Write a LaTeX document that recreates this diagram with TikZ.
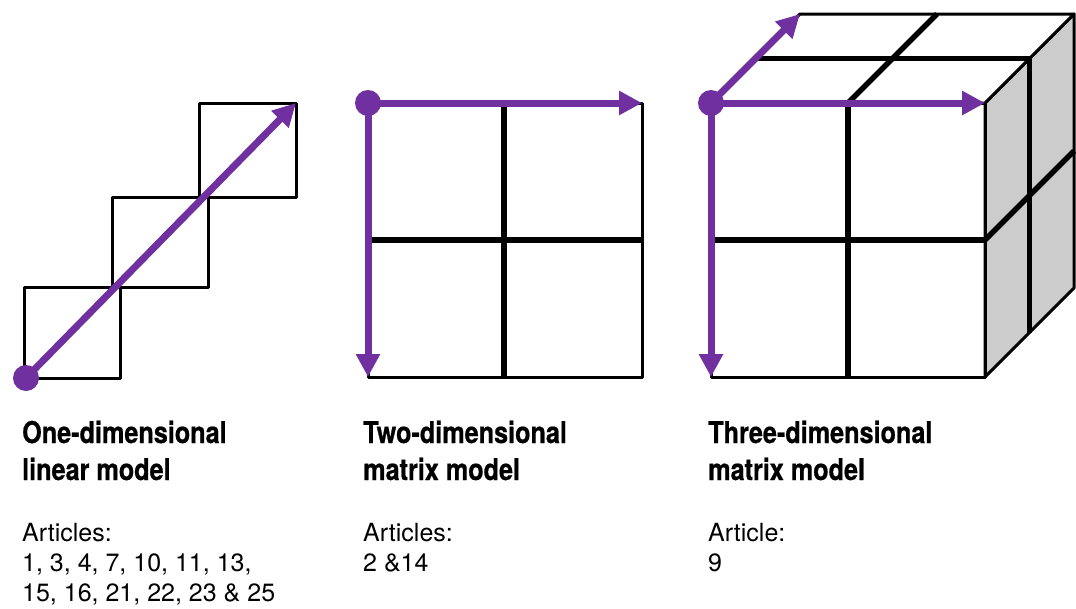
\documentclass[tikz,border=0pt]{standalone}
\usepackage{fontspec}
\setmainfont{TeX Gyre Heros}
\newfontfamily\condfont[FakeStretch=0.84, FakeBold=0.6]{TeX Gyre Heros}
\usetikzlibrary{arrows.meta}
\definecolor{modelpurple}{HTML}{7030A0}
\definecolor{sidegrey}{HTML}{CCCCCC}

\begin{document}
\begin{tikzpicture}[x=1pt, y=-1pt,
	cell/.style={line width=3pt, line join=round},
	divider/.style={line width=5.5pt},
	route/.style={modelpurple, line width=7pt, -{Triangle[length=23pt, width=23pt]}},
	start/.style={circle, fill=modelpurple, minimum size=26pt, inner sep=0pt},
	title/.style={anchor=base west, align=left, inner sep=0pt, font=\condfont\bfseries\fontsize{30}{37}\selectfont},
	info/.style={anchor=base west, align=left, inner sep=0pt, font=\fontsize{25}{30}\selectfont}]
	\useasboundingbox (0, 0) rectangle (1076, 608);

	% one-dimensional linear model
	\draw [cell] (24, 287) rectangle (120, 378);
	\draw [cell] (112, 197) rectangle (208, 287);
	\draw [cell] (199, 103) rectangle (296, 197);
	\coordinate (l-end) at (296, 103);
	\node [start] (l-start) at (26, 378) {};
	\draw [route] (l-start.center) -- (l-end);

	% two-dimensional matrix model
	\draw [cell] (368, 103) rectangle (642, 377);
	\draw [divider] (504, 103) -- (504, 377);
	\draw [divider] (368, 240) -- (642, 240);
	\coordinate (m-right) at (642, 103);
	\coordinate (m-down) at (368, 377);
	\node [start] (m-start) at (368, 103) {};
	\draw [route] (m-start.center) -- (m-right);
	\draw [route] (m-start.center) -- (m-down);

	% three-dimensional matrix model
	\draw [cell, fill=sidegrey] (985, 103) -- (1074, 14) -- (1074, 288) -- (985, 377) -- cycle;
	\draw [cell, fill=white] (711, 103) -- (800, 14) -- (1074, 14) -- (985, 103) -- cycle;
	\draw [cell] (711, 103) rectangle (985, 377);
	\draw [divider] (848, 103) -- (848, 377);
	\draw [divider] (711, 240) -- (985, 240);
	\draw [divider] (848, 103) -- (937, 14);
	\draw [divider] (755.5, 58.5) -- (1029.5, 58.5);
	\draw [divider] (1029.5, 58.5) -- (1029.5, 332.5);
	\draw [divider] (985, 240) -- (1074, 151);
	\coordinate (c-right) at (985, 103);
	\coordinate (c-down) at (711, 377);
	\coordinate (c-back) at (800, 14);
	\node [start] (c-start) at (711, 103) {};
	\draw [route] (c-start.center) -- (c-right);
	\draw [route] (c-start.center) -- (c-down);
	\draw [route] (c-start.center) -- (c-back);

	% labels (base = last line)
	\node [title] (t-linear) at (22, 480) {One-dimensional\\linear model};
	\node [info] (a-linear) at (22, 601) {Articles:\\1, 3, 4, 7, 10, 11, 13,\\15, 16, 21, 22, 23 \& 25};
	\node [title] (t-matrix) at (363, 480) {Two-dimensional\\matrix model};
	\node [info] (a-matrix) at (363, 571) {Articles:\\2 \&14};
	\node [title] (t-cube) at (708, 480) {Three-dimensional\\matrix model};
	\node [info] (a-cube) at (708, 571) {Article:\\9};
\end{tikzpicture}
\end{document}
